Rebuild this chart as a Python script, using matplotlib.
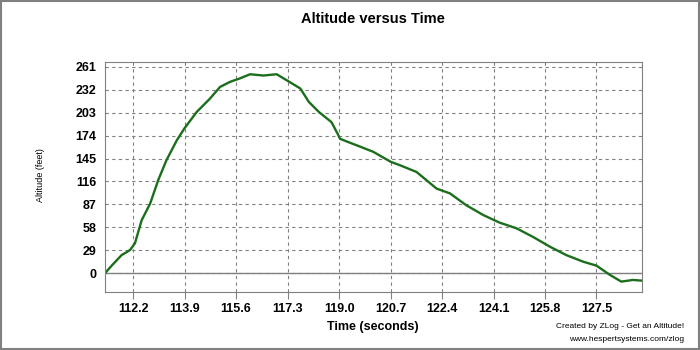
import matplotlib
matplotlib.use('Agg')
import matplotlib.pyplot as plt
from matplotlib.patches import Rectangle

# dados (tempo em segundos, altitude em pes)
tempo = [111.27, 111.5, 111.82, 112.0, 112.1, 112.26, 112.48, 112.76, 113.03, 113.3,
         113.64, 113.89, 114.3, 114.63, 114.74, 115.07, 115.4, 115.7, 116.06, 116.5,
         116.94, 117.27, 117.72, 118.0, 118.33, 118.75, 118.97, 119.03, 119.36, 119.7,
         120.13, 120.7, 121.0, 121.56, 122.22, 122.66, 123.2, 123.76, 124.3, 124.86,
         125.4, 125.96, 126.5, 127.06, 127.5, 127.94, 128.32, 128.7, 128.98]
altitude = [0, 10, 23, 27, 29.5, 38, 67, 88, 118, 143,
            168, 183, 204, 216.7, 221, 235.6, 242, 246, 251.6, 250,
            251.6, 244, 233.6, 216.7, 204, 191, 175, 170, 165, 160,
            153.5, 141, 136.7, 128, 107, 101, 86, 73.6, 64, 56.8,
            46, 33.6, 23, 14.6, 9.6, -2, -10.6, -8.5, -9.3]

x_ticks = [112.2, 113.9, 115.6, 117.3, 119.0, 120.7, 122.4, 124.1, 125.8, 127.5]
y_ticks = [0, 29, 58, 87, 116, 145, 174, 203, 232, 261]

fig = plt.figure(figsize=(7, 3.5), dpi=100)
ax = fig.add_axes([0.15, 0.166, 0.767, 0.658])

ax.plot(tempo, altitude, color='#1b6e1b', linewidth=1.7)
ax.axhline(0, color='#808080', linewidth=1, zorder=1)

ax.set_xlim(111.27, 129.0)
ax.set_ylim(-23.6, 267.6)
ax.set_xticks(x_ticks)
ax.set_xticklabels(['%.1f' % v for v in x_ticks])
ax.set_yticks(y_ticks)
ax.grid(True, linestyle=(0, (3, 3)), color='#808080', linewidth=0.8)

for s in ax.spines.values():
    s.set_color('#808080')
ax.tick_params(axis='x', length=5, color='#808080', labelsize=9, pad=3)
ax.tick_params(axis='y', length=0, labelsize=9, pad=6)
for lbl in ax.get_xticklabels() + ax.get_yticklabels():
    lbl.set_fontweight('bold')
    lbl.set_family('Liberation Sans')

fig.text(0.533, 0.945, 'Altitude versus Time', ha='center', va='center',
         fontsize=10.5, family='Liberation Sans', fontweight='bold')
fig.text(0.533, 0.065, 'Time (seconds)', ha='center', va='center',
         fontsize=9, family='Liberation Sans', fontweight='bold')
fig.text(0.058, 0.5, 'Altitude (feet)', ha='center', va='center', rotation=90,
         fontsize=6.5, family='Liberation Sans')
fig.text(0.977, 0.068, 'Created by ZLog - Get an Altitude!', ha='right', va='center',
         fontsize=6, family='Liberation Sans')
fig.text(0.977, 0.03, 'www.hespertsystems.com/zlog', ha='right', va='center',
         fontsize=6, family='Liberation Sans')

# moldura da figura
fig.patches.append(Rectangle((0.001, 0.002), 0.997, 0.995, transform=fig.transFigure,
                             fill=False, edgecolor='#808080', linewidth=1.5))

fig.savefig('out.png', dpi=100)
